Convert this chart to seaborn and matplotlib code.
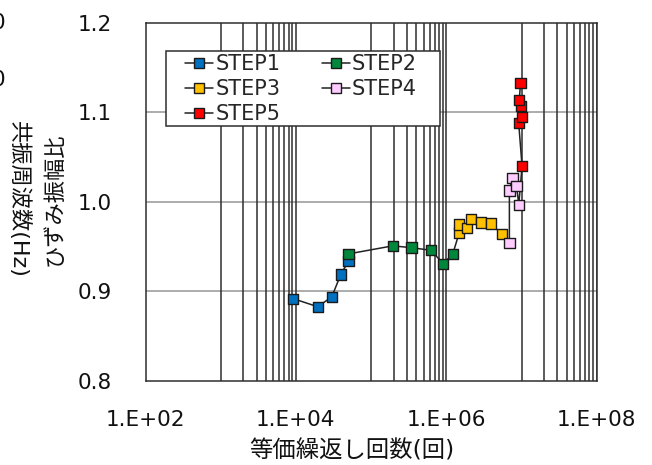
import numpy as np
import pandas as pd
import matplotlib
matplotlib.use("Agg")
import matplotlib.pyplot as plt
from matplotlib.lines import Line2D
from matplotlib.patches import Rectangle
import seaborn as sns

# Equivalent cycle counts and strain-amplitude ratios for each loading step
step_names = ["STEP1", "STEP2", "STEP3", "STEP4", "STEP5"]
step1_x = [9.2e3, 1.95e4, 3.0e4, 3.95e4, 5.0e4]
step1_y = [0.892, 0.883, 0.894, 0.919, 0.934]
step2_x = [5.0e4, 1.94e5, 3.43e5, 6.27e5, 9.1e5, 1.22e6]
step2_y = [0.942, 0.951, 0.949, 0.946, 0.931, 0.942]
step3_x = [1.49e6, 1.49e6, 1.9e6, 2.11e6, 2.89e6, 3.89e6, 5.5e6]
step3_y = [0.966, 0.975, 0.971, 0.981, 0.977, 0.976, 0.964]
step4_x = [6.9e6, 6.9e6, 7.6e6, 8.6e6, 9.2e6]
step4_y = [0.954, 1.013, 1.027, 1.018, 0.997]
step5_x = [1.017e7, 9.18e6, 1.007e7, 9.85e6, 9.35e6, 9.7e6]
step5_y = [1.040, 1.088, 1.095, 1.107, 1.114, 1.133]

step_colors = ["#0070C0", "#00873C", "#FFC000", "#FFCCFF", "#FF0000"]

x_ticks = [1e2, 1e4, 1e6, 1e8]
x_tick_labels = ["1.E+02", "1.E+04", "1.E+06", "1.E+08"]
y_ticks = [0.8, 0.9, 1.0, 1.1, 1.2]
y_tick_labels = ["0.8", "0.9", "1.0", "1.1", "1.2"]

xs = [step1_x, step2_x, step3_x, step4_x, step5_x]
ys = [step1_y, step2_y, step3_y, step4_y, step5_y]
df = pd.concat(
    [pd.DataFrame({"step": n, "cycles": x, "ratio": y})
     for n, x, y in zip(step_names, xs, ys)],
    ignore_index=True,
)

sns.set_theme(style="white")
plt.rcParams["font.family"] = ["DejaVu Sans", "Noto Sans CJK JP"]

W, H = 652, 465
fig = plt.figure(figsize=(W / 100, H / 100), dpi=100)
L, R, T, B = 145.5, 596.7, 23, 381
ax = fig.add_axes([L / W, 1 - B / H, (R - L) / W, (B - T) / H])
ax.set_xscale("log")
ax.set_xlim(1e2, 1e8)
ax.set_ylim(0.8, 1.2)

# horizontal grid at the major y values
for yv in y_ticks[1:-1]:
    ax.axhline(yv, color="#A6A6A6", lw=1.3, zorder=0)

# vertical grid: a full decade of lines in every other decade
vlines = []
for d in (3, 5, 7):
    for k in range(1, 11):
        vlines.append(k * 10.0 ** d)
ax.vlines(vlines, 0.8, 1.2, colors="#2E2E2E", lw=1.1, zorder=0.5)

# connecting line through all steps in measurement order
sns.lineplot(data=df, x="cycles", y="ratio", sort=False, estimator=None,
             color="#222222", lw=1.1, ax=ax, zorder=2)
sns.scatterplot(data=df, x="cycles", y="ratio", hue="step",
                palette=dict(zip(step_names, step_colors)), marker="s",
                s=55, edgecolor="#1A1A1A", linewidth=1.0, legend=False,
                ax=ax, zorder=3)

ax.set_xticks(x_ticks)
ax.set_xticklabels(x_tick_labels)
ax.xaxis.set_minor_locator(matplotlib.ticker.NullLocator())
ax.set_yticks(y_ticks)
ax.set_yticklabels(y_tick_labels)
ax.tick_params(axis="x", length=0, pad=21, labelsize=15.5, colors="#111111")
ax.tick_params(axis="y", length=0, pad=24, labelsize=15.5, colors="#111111")

for s in ax.spines.values():
    s.set_visible(True)
    s.set_color("#2E2E2E")
    s.set_linewidth(1.1)

ax.set_xlabel("等価繰返し回数(回)", fontsize=16.8, color="#111111")
ax.xaxis.set_label_coords((352 - L) / (R - L), (B - 451) / (B - T))
ax.xaxis.label.set_va("center")
ax.set_ylabel("ひずみ振幅比", fontsize=16, color="#111111")
ax.yaxis.set_label_coords((54 - L) / (R - L), (B - 199) / (B - T))
ax.yaxis.label.set_va("center")

fig.text(19 / W, 1 - 199 / H, "共振周波数(Hz)", rotation=270, fontsize=16,
         ha="center", va="center", color="#111111")
# tick values of the neighbouring chart, cut by the figure edge
fig.text(5 / W, 1 - 23 / H, "0", ha="right", va="center", fontsize=15.5, color="#111111")
fig.text(5 / W, 1 - 80 / H, "0", ha="right", va="center", fontsize=15.5, color="#111111")

# legend box
box = Rectangle((166 / W, 1 - 126 / H), (440 - 166) / W, (126 - 51) / H,
                transform=fig.transFigure, facecolor="white",
                edgecolor="#2E2E2E", lw=1.1, zorder=4.5, clip_on=False)
ax.add_patch(box)

handles = {
    n: Line2D([0], [0], color="#222222", lw=1.1, marker="s", markersize=7.5,
              markerfacecolor=c, markeredgecolor="#1A1A1A", markeredgewidth=1.0)
    for n, c in zip(step_names, step_colors)
}
order = ["STEP1", "STEP3", "STEP5", "STEP2", "STEP4"]
leg = ax.legend([handles[n] for n in order], order, ncol=2,
                loc="upper left", bbox_to_anchor=(185 / W, 1 - 54 / H),
                bbox_transform=fig.transFigure, fontsize=15,
                frameon=False, handlelength=1.35, handletextpad=0.1,
                columnspacing=2.0, labelspacing=0.25, borderpad=0,
                borderaxespad=0)
leg.set_zorder(5)

fig.savefig("out.png", dpi=100, facecolor="white")
